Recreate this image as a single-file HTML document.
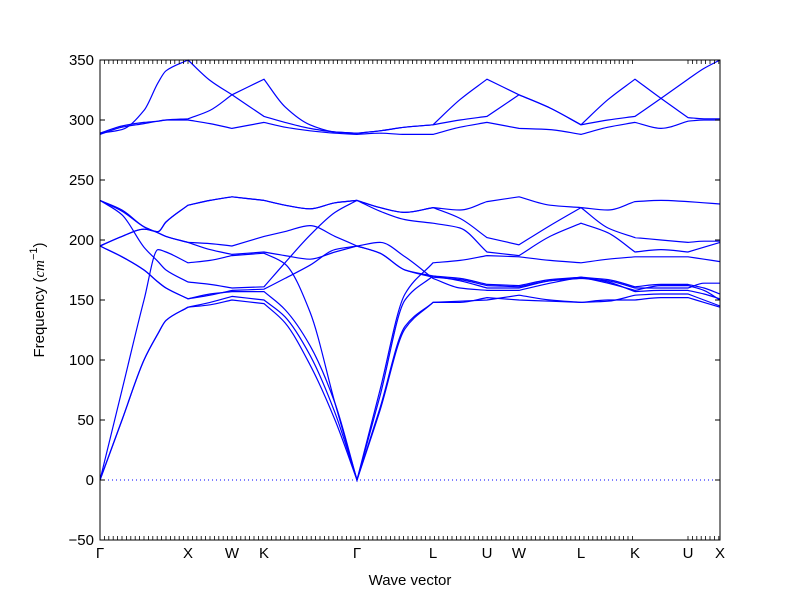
<!DOCTYPE html>
<html><head><meta charset="utf-8"><style>
body{margin:0;background:#fff}
svg{display:block}
text{font-family:"Liberation Sans",sans-serif;font-size:15px;fill:#000}
</style></head><body>
<svg id="chart" width="800" height="600" xmlns="http://www.w3.org/2000/svg">
<rect x="0" y="0" width="800" height="600" fill="#fff"/>
<g id="bands"></g>
<g id="ticks"></g>
<rect x="100" y="60" width="620" height="480" fill="none" stroke="#000" stroke-width="1"/>
<text transform="translate(44,300) rotate(-90)" text-anchor="middle" font-size="16">Frequency (<tspan font-family="Liberation Serif" font-style="italic">cm</tspan><tspan font-size="11" dy="-7">−1</tspan><tspan dy="7">)</tspan></text>
<text x="410" y="585" text-anchor="middle" font-size="16">Wave vector</text>
</svg>
<script>
const kDist = [0,22,44,58,66,88,110,132,164,185,210,235,257,280,305,333,360,387,419,450,481,508,535,561,588,604,620];
const segBreaks = [0,5,7,8,12,15,17,18,20,22,24,26];
const kLabels = ["Γ","X","W","K","Γ","L","U","W","L","K","U","X"];
const kLabelPos = [0,88,132,164,257,333,387,419,481,535,588,620];
const yTicks = [-50,0,50,100,150,200,250,300,350];
const bandT1 = [289,292,308,331,341,350,333,321,303,298,293,290,289,291,294,296,317,334,321,310,296,317,334,318,302,301,301];
const bandT2 = [289,295,298,299,300,301,308,321,334,311,296,290,289,291,294,296,300,303,321,310,296,300,303,318,334,343,350];
const bandT3 = [288,294,297,299,300,300,297,293,298,294,291,289,288,289,288,288,294,298,293,292,288,294,298,293,299,300,300];
const bandC = [195,203,209,207,215,229,233,236,233,229,226,231,233,227,223,227,225,232,236,229,227,225,232,233,232,231,230];
const bandE = [195,203,209,207,215,229,233,236,233,229,226,231,233,227,223,227,218,202,196,212,227,210,202,200,198,199,199];
const bandA = [233,221,194,182,175,165,163,160,161,181,204,223,233,224,217,214,210,190,187,203,214,206,190,192,190,194,198];
const bandB = [233,225,211,206,203,198,197,195,203,207,212,203,195,198,186,168,160,158,158,164,169,164,158,162,162,158,150];
const bandB2 = [233,224,211,206,203,198,192,188,190,187,184,190,195,189,175,170,166,160,160,166,169,167,161,163,163,160,155];
const bandD = [195,186,175,165,160,151,154,158,159,168,179,192,195,189,175,169,167,162,161,166,168,166,160,160,160,164,164];
const bandD2 = [195,186,175,165,160,151,155,157,157,142,112,64,0,70,150,170,168,163,162,167,169,165,157,158,158,155,151];
const bandLA = [0,75,150,192,190,181,183,187,189,180,140,64,0,75,155,181,183,187,186,183,181,184,186,186,186,184,182];
const bandTA1 = [0,50,100,122,133,144,148,153,150,136,104,56,0,60,128,148,149,150,154,150,148,149,154,155,155,150,145];
const bandTA2 = [0,50,100,122,133,144,146,150,147,131,96,50,0,58,126,148,148,152,150,149,148,150,150,152,152,148,144];
const bands = [bandT1,bandT2,bandT3,bandC,bandE,bandA,bandB,bandB2,bandD,bandD2,bandLA,bandTA1,bandTA2];

const NS="http://www.w3.org/2000/svg";
const X0=100,X1=720,Y0=540,Y1=60,KMAX=620,FMIN=-50,FMAX=350;
function xs(k){return X0+(k/KMAX)*(X1-X0);}
function ys(f){return Y0-(f-FMIN)/(FMAX-FMIN)*(Y0-Y1);}
function el(t,a){const e=document.createElementNS(NS,t);for(const k in a)e.setAttribute(k,a[k]);return e;}

function monoSeg(xv,yv){
  const n=xv.length;const d=[],m=[];
  for(let i=0;i<n-1;i++)d.push((yv[i+1]-yv[i])/(xv[i+1]-xv[i]));
  for(let i=0;i<n;i++){
    if(i===0)m.push(d[0]);else if(i===n-1)m.push(d[n-2]);
    else if(d[i-1]*d[i]<=0)m.push(0);
    else{m.push(2/(1/d[i-1]+1/d[i]));}
  }
  let s="";
  for(let i=0;i<n-1;i++){
    const h=xv[i+1]-xv[i];
    const c1x=xv[i]+h/3,c1y=yv[i]+m[i]*h/3,c2x=xv[i+1]-h/3,c2y=yv[i+1]-m[i+1]*h/3;
    s+=" C"+xs(c1x).toFixed(2)+","+ys(c1y).toFixed(2)+" "+xs(c2x).toFixed(2)+","+ys(c2y).toFixed(2)+" "+xs(xv[i+1]).toFixed(2)+","+ys(yv[i+1]).toFixed(2);
  }
  return s;
}
const gB=document.getElementById("bands");
const zero=el("line",{x1:X0,x2:X1,y1:ys(0),y2:ys(0),stroke:"#0000ff","stroke-width":1,"stroke-dasharray":"1,3"});


gB.appendChild(zero);
bands.forEach((b,bi)=>{
  let d="M"+xs(kDist[0]).toFixed(2)+","+ys(b[0]).toFixed(2);
  for(let s=0;s<segBreaks.length-1;s++){
    const a=segBreaks[s],c=segBreaks[s+1];
    d+=monoSeg(kDist.slice(a,c+1),b.slice(a,c+1));
  }
  const p=el("path",{d:d,fill:"none",stroke:"#0000ff","stroke-width":1.2});
  
  
  gB.appendChild(p);
});
const gT=document.getElementById("ticks");
yTicks.forEach(v=>{
  const y=ys(v);
  const l1=el("line",{x1:X0,x2:X0+5,y1:y,y2:y,stroke:"#000"});
  
  
  gT.appendChild(l1);
  const l2=el("line",{x1:X1-5,x2:X1,y1:y,y2:y,stroke:"#000"});
  
  
  gT.appendChild(l2);
  const t=el("text",{x:94,y:y+5,"text-anchor":"end"});
  t.textContent=(v<0?"−":"")+Math.abs(v);
  
  
  gT.appendChild(t);
});
function minor(k){
  const x=xs(k);
  const a=el("line",{x1:x,x2:x,y1:Y1,y2:Y1+4,stroke:"#000","stroke-width":0.8});
  
  
  gT.appendChild(a);
  const b=el("line",{x1:x,x2:x,y1:Y0-4,y2:Y0,stroke:"#000","stroke-width":0.8});
  
  
  gT.appendChild(b);
}
for(let k=0;k<=536;k+=4.4)minor(k);
for(let k=588;k<=620;k+=4.4)minor(k);
kLabels.forEach((lab,i)=>{
  const t=el("text",{x:xs(kLabelPos[i]),y:558,"text-anchor":"middle","font-size":16});
  if(lab==="Γ")t.setAttribute("font-family","Liberation Serif");
  t.textContent=lab;
  
  
  gT.appendChild(t);
});
</script>
</body></html>
